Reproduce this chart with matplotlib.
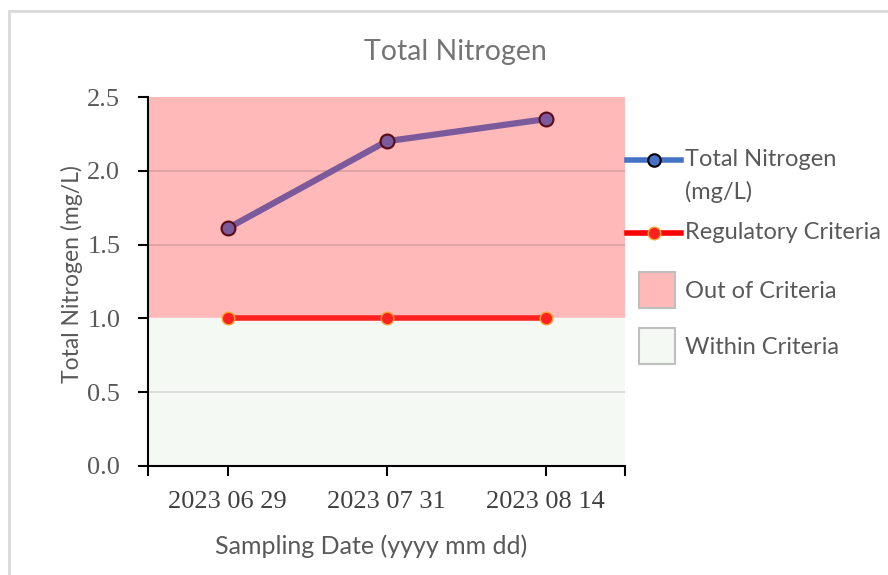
import matplotlib
matplotlib.use("agg")
import matplotlib.pyplot as plt
from matplotlib.lines import Line2D
from matplotlib.patches import Rectangle

dates = ["2023 06 29", "2023 07 31", "2023 08 14"]
total_nitrogen = [1.61, 2.20, 2.35]
criteria = [1.0, 1.0, 1.0]
y_ticks = [0.0, 0.5, 1.0, 1.5, 2.0, 2.5]

sans = ["Lato", "DejaVu Sans"]
serif = ["Liberation Serif", "DejaVu Serif"]
grey = "#595959"
W, H = 888, 575


def fx(px):
    return px / W


def fy(py):
    return 1 - py / H


fig = plt.figure(figsize=(W / 100, H / 100), dpi=100)
ax = fig.add_axes([fx(148), fy(466), 477 / W, 369 / H])

# chart frame
fig.patches.append(Rectangle((fx(9), -0.1), 1.1, fy(11) + 0.1,
                             transform=fig.transFigure, fill=False,
                             edgecolor="#d9d9d9", linewidth=2))

x = list(range(len(dates)))
ax.axhspan(criteria[0], y_ticks[-1], color="#ffb9b9", zorder=0)
ax.axhspan(0, criteria[0], color="#f5f9f3", zorder=0)
for v in y_ticks[1:-1]:
    if v != criteria[0]:
        ax.axhline(v, color="#dda0a0" if v > criteria[0] else "#d9d9d9",
                   lw=1.3, zorder=1)

ax.plot(x, criteria, color="#ff2020", lw=4, marker="o", ms=9,
        mfc="#ff2020", mec="#f5a030", mew=1, zorder=3)
ax.plot(x, total_nitrogen, color="#7b5a9c", lw=4.5, marker="o", ms=10,
        mfc="#7b5a9c", mec="#5a0a14", mew=1.5, zorder=4)

ax.set_xlim(-0.5, len(dates) - 0.5)
ax.set_ylim(0, y_ticks[-1])
ax.set_yticks(y_ticks)
ax.set_yticklabels([f"{v:.1f}" for v in y_ticks], family=serif,
                   fontsize=19, color=grey)
ax.set_xticks(x)
ax.set_xticks([-0.5, len(dates) - 0.5], minor=True)
ax.set_xticklabels(dates, family=serif, fontsize=19, color="#404040")
ax.tick_params(axis="both", which="both", length=7, width=1.5, direction="out")
ax.tick_params(axis="x", pad=11)
ax.tick_params(axis="y", pad=13)
for s in ["top", "right"]:
    ax.spines[s].set_visible(False)
for s in ["left", "bottom"]:
    ax.spines[s].set_linewidth(1.5)
    ax.spines[s].set_color("#000000")

fig.text(fx(455), fy(52), "Total Nitrogen", family=sans, fontsize=20.5,
         color="#757575", ha="center", va="center")
ax.set_xlabel("Sampling Date (yyyy mm dd)", family=sans, fontsize=18,
              color=grey, va="center")
ax.xaxis.set_label_coords((371 - 148) / 477, (466 - 546) / 369)
ax.set_ylabel("Total Nitrogen (mg/L)", family=sans, fontsize=16.5,
              color=grey, va="center")
ax.yaxis.set_label_coords((72 - 148) / 477, (466 - 274) / 369)

# legend, drawn at the reference's place right of the plot
legend_font = dict(family=sans, fontsize=17, color=grey, va="center")
fig.add_artist(Line2D([fx(627), fx(681)], [fy(160)] * 2, color="#4472c4",
                      lw=4, transform=fig.transFigure))
fig.add_artist(Line2D([fx(654)], [fy(160)], marker="o", ms=9, mfc="#4472c4",
                      mec="#000000", mew=1.5, transform=fig.transFigure))
fig.text(fx(685), fy(160), "Total Nitrogen", **legend_font)
fig.text(fx(685), fy(192), "(mg/L)", **legend_font)
fig.add_artist(Line2D([fx(627), fx(681)], [fy(233)] * 2, color="#ff0000",
                      lw=4, transform=fig.transFigure))
fig.add_artist(Line2D([fx(654)], [fy(233)], marker="o", ms=9, mfc="#ff2020",
                      mec="#f5a030", mew=1, transform=fig.transFigure))
fig.text(fx(685), fy(233), "Regulatory Criteria", **legend_font)
for top, face, label in [(272, "#ffb9b9", "Out of Criteria"),
                         (328, "#f5f9f3", "Within Criteria")]:
    fig.patches.append(Rectangle((fx(639), fy(top + 36)), 36 / W, 36 / H,
                                 transform=fig.transFigure, facecolor=face,
                                 edgecolor="#bfbfbf", lw=1.5))
    fig.text(fx(685), fy(top + 20), label, **legend_font)

fig.savefig("out.png", dpi=100)
